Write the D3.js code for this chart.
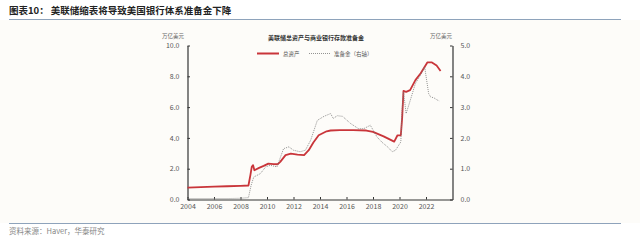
<!DOCTYPE html>
<html>
<head>
<meta charset="utf-8">
<script src="https://cdn.jsdelivr.net/npm/d3@7"></script>
<style>
  body { margin: 0; background: #fff; }
  svg text { font-family: "Noto Sans CJK SC", "Liberation Sans", sans-serif; }
</style>
</head>
<body>
<svg width="640" height="240"></svg>
<script>
// 美联储总资产（万亿美元，左轴），按年份小数
var assetYears = [2004.0, 2005.0, 2006.0, 2007.0, 2008.0, 2008.6, 2008.75, 2008.85, 2008.95, 2009.05, 2009.4, 2009.75, 2010.1, 2010.5, 2010.8, 2011.0, 2011.4, 2011.8, 2012.3, 2012.8, 2013.15, 2013.5, 2013.9, 2014.5, 2014.8, 2015.5, 2016.5, 2017.5, 2018.0, 2018.8, 2019.6, 2019.85, 2020.1, 2020.2, 2020.3, 2020.5, 2020.8, 2021.2, 2021.6, 2022.1, 2022.45, 2022.8, 2023.1];
var assetValues = [0.77, 0.8, 0.83, 0.86, 0.89, 0.91, 1.6, 2.12, 2.23, 1.9, 2.05, 2.18, 2.33, 2.3, 2.29, 2.44, 2.88, 2.98, 2.92, 2.88, 3.2, 3.7, 4.17, 4.43, 4.48, 4.5, 4.5, 4.48, 4.39, 4.1, 3.76, 4.17, 4.17, 5.3, 7.05, 6.99, 7.1, 7.75, 8.2, 8.9, 8.9, 8.7, 8.35];

// 商业银行存款准备金（万亿美元，右轴）
var reserveYears = [2004.0, 2005.0, 2006.0, 2007.0, 2008.0, 2008.6, 2008.8, 2009.0, 2009.5, 2009.9, 2010.25, 2010.75, 2011.25, 2011.65, 2012.0, 2012.5, 2012.9, 2013.3, 2013.8, 2014.3, 2014.8, 2015.0, 2015.3, 2015.7, 2016.3, 2016.9, 2017.3, 2017.8, 2018.3, 2018.7, 2019.1, 2019.45, 2019.7, 2020.1, 2020.2, 2020.3, 2020.5, 2020.8, 2021.2, 2021.6, 2021.9, 2022.2, 2022.35, 2022.6, 2022.85, 2023.0];
var reserveValues = [0.03, 0.03, 0.03, 0.03, 0.04, 0.06, 0.46, 0.73, 0.84, 1.06, 1.11, 1.06, 1.65, 1.71, 1.6, 1.55, 1.6, 1.93, 2.57, 2.7, 2.79, 2.63, 2.72, 2.7, 2.47, 2.3, 2.3, 2.41, 2.03, 1.85, 1.71, 1.55, 1.6, 1.87, 2.9, 3.5, 2.79, 3.2, 3.77, 4.05, 4.3, 3.44, 3.33, 3.3, 3.23, 3.2];

var xTicks = [2004, 2006, 2008, 2010, 2012, 2014, 2016, 2018, 2020, 2022];
var leftTicks = [0, 2, 4, 6, 8, 10];
var rightTicks = [0, 1, 2, 3, 4, 5];

var svg = d3.select("svg");

// 背景与标题
svg.append("rect").attr("x", 0).attr("y", 20).attr("width", 640).attr("height", 203).attr("fill", "#fdfcf9");
svg.append("text").attr("x", 9).attr("y", 14)
  .attr("font-size", 9.5).attr("font-weight", "bold").attr("fill", "#222")
  .text("图表10：  美联储缩表将导致美国银行体系准备金下降");
svg.append("line").attr("x1", 9).attr("x2", 621).attr("y1", 19.5).attr("y2", 19.5)
  .attr("stroke", "#8ea3bb").attr("stroke-width", 1);
svg.append("line").attr("x1", 9).attr("x2", 621).attr("y1", 223.5).attr("y2", 223.5)
  .attr("stroke", "#8ea3bb").attr("stroke-width", 1);
svg.append("text").attr("x", 9).attr("y", 234)
  .attr("font-size", 7.5).attr("fill", "#888")
  .text("资料来源：Haver，华泰研究");

var x = d3.scaleLinear().domain([2004, 2024]).range([187.5, 452.5]);
var yL = d3.scaleLinear().domain([0, 10]).range([199.5, 45.5]);
var yR = d3.scaleLinear().domain([0, 5]).range([199.5, 45.5]);

var axisColor = "#333";

// 左轴
var gL = svg.append("g").attr("transform", "translate(187.5,0)")
  .call(d3.axisLeft(yL).tickValues(leftTicks).tickFormat(d3.format(".1f")).tickSizeInner(-2.5).tickSizeOuter(0).tickPadding(8));
// 右轴
var gR = svg.append("g").attr("transform", "translate(452.5,0)")
  .call(d3.axisRight(yR).tickValues(rightTicks).tickFormat(d3.format(".1f")).tickSizeInner(-2.5).tickSizeOuter(0).tickPadding(8));
// 底轴
var gX = svg.append("g").attr("transform", "translate(0,199.5)")
  .call(d3.axisBottom(x).tickValues(xTicks).tickFormat(d3.format("d")).tickSizeInner(-2.5).tickSizeOuter(0).tickPadding(5));

[gL, gR, gX].forEach(function(g) {
  g.select(".domain").attr("stroke", axisColor).attr("stroke-width", 1.2);
  g.selectAll(".tick line").attr("stroke", axisColor);
  g.selectAll(".tick text").attr("fill", "#555").attr("font-size", 7)
    .attr("font-family", "Liberation Sans, Arial, sans-serif");
});

// 单位
svg.append("text").attr("x", 173).attr("y", 38).attr("text-anchor", "middle")
  .attr("font-size", 5.5).attr("fill", "#666").text("万亿美元");
svg.append("text").attr("x", 441).attr("y", 38).attr("text-anchor", "middle")
  .attr("font-size", 5.5).attr("fill", "#666").text("万亿美元");

// 图内标题
svg.append("text").attr("x", 316).attr("y", 40).attr("text-anchor", "middle")
  .attr("font-size", 6).attr("font-weight", "bold").attr("fill", "#333")
  .text("美联储总资产与商业银行存款准备金");

// 图例
svg.append("line").attr("x1", 257).attr("x2", 279).attr("y1", 53.5).attr("y2", 53.5)
  .attr("stroke", "#c9353a").attr("stroke-width", 2);
svg.append("text").attr("x", 283).attr("y", 55.5).attr("font-size", 5.5).attr("fill", "#555").text("总资产");
svg.append("line").attr("x1", 309).attr("x2", 330).attr("y1", 53.5).attr("y2", 53.5)
  .attr("stroke", "#777").attr("stroke-width", 0.8).attr("stroke-dasharray", "1,1");
svg.append("text").attr("x", 334).attr("y", 55.5).attr("font-size", 5.5).attr("fill", "#555").text("准备金（右轴）");

// 线
var assetLine = d3.line().x(function(d, i) { return x(assetYears[i]); }).y(function(d) { return yL(d); });
var reserveLine = d3.line().x(function(d, i) { return x(reserveYears[i]); }).y(function(d) { return yR(d); });

svg.append("path").datum(assetValues).attr("d", assetLine)
  .attr("fill", "none").attr("stroke", "#c9353a").attr("stroke-width", 1.8).attr("stroke-linejoin", "round");
svg.append("path").datum(reserveValues).attr("d", reserveLine)
  .attr("fill", "none").attr("stroke", "#777").attr("stroke-width", 0.8).attr("stroke-dasharray", "1,1");
</script>
</body>
</html>
